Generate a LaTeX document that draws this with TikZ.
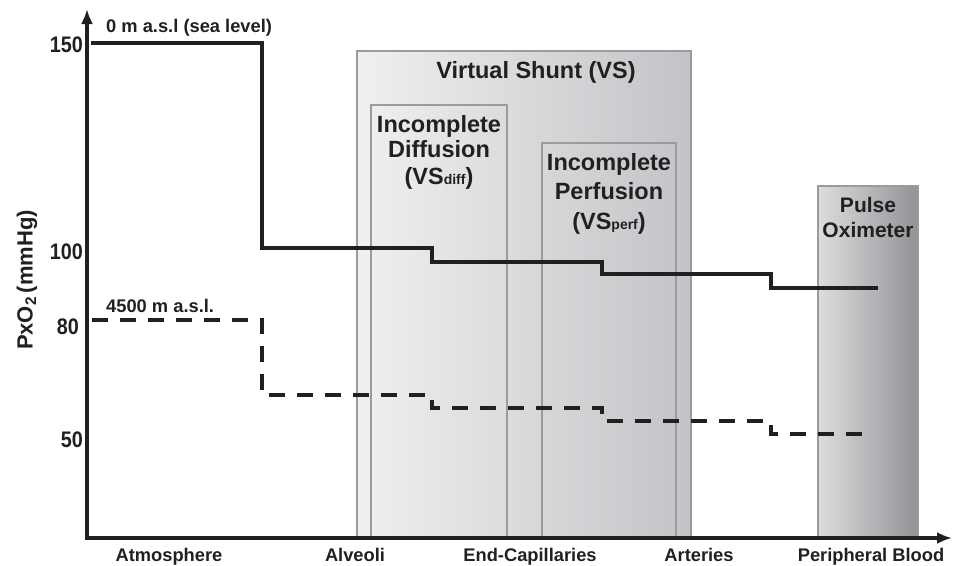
\documentclass[tikz,border=0pt]{standalone}
\usepackage{fontspec}
\setmainfont{Liberation Sans}
\newfontfamily\condfont[FakeStretch=0.88]{Liberation Sans}
\usetikzlibrary{arrows.meta}
\definecolor{ink}{HTML}{231F20}
\definecolor{boxline}{HTML}{9A9B9D}
\definecolor{vsL}{HTML}{F0F0F1}
\definecolor{vsR}{HTML}{C2C3C6}
\definecolor{poL}{HTML}{DCDDDF}
\definecolor{poR}{HTML}{919295}
\newcommand{\smallsub}[1]{\raisebox{-0.5pt}{\fontsize{14}{14}\selectfont #1}}
\begin{document}
\begin{tikzpicture}[x=1pt,y=-1pt,
  lbl/.style={font=\bfseries\fontsize{18.3}{20}\selectfont, text=ink, inner sep=0pt, anchor=base},
  ticklbl/.style={font=\condfont\bfseries\fontsize{22.5}{24}\selectfont, text=ink, inner sep=0pt, anchor=base east},
  boxtxt/.style={font=\bfseries\fontsize{23.5}{28}\selectfont, text=ink, inner sep=0pt, anchor=base},
  frame/.style={draw=boxline, line width=2.5pt},
  curve/.style={draw=ink, line width=4pt, line join=miter},
  dashcurve/.style={curve, dash pattern=on 16pt off 12pt},
  axisline/.style={draw=ink, line width=4pt, {Latex[length=15pt,width=12pt]}-{Latex[length=15pt,width=12pt]}},
]
\useasboundingbox (0,0) rectangle (953,565);

% boxes
\shade[left color=vsL, right color=vsR] (357,51) rectangle (691,538);
\draw[frame] (357,51) rectangle (691,538);
\draw[frame] (371,105) rectangle (507,538);
\draw[frame] (542,143) rectangle (676,538);
\shade[left color=poL, right color=poR] (818,186) rectangle (918,538);
\draw[frame] (818,186) rectangle (918,538);

% box texts
\node[boxtxt] (vs) at (536,78) {Virtual Shunt (VS)};
\node[boxtxt] (d1) at (439,132) {Incomplete};
\node[boxtxt] (d2) at (439,157) {Diffusion};
\node[boxtxt] (d3) at (439,184) {(VS\smallsub{diff})};
\node[boxtxt] (p1) at (609,170) {Incomplete};
\node[boxtxt] (p2) at (609,199) {Perfusion};
\node[boxtxt] (p3) at (609,229) {(VS\smallsub{perf})};
\node[boxtxt, font=\bfseries\fontsize{21}{24}\selectfont] (o1) at (868,212) {Pulse};
\node[boxtxt, font=\bfseries\fontsize{21}{24}\selectfont] (o2) at (868,237) {Oximeter};

% curves
\coordinate (s0) at (91,43);
\coordinate (se) at (878,288);
\draw[curve] (s0) -- (262,43) -- (262,248) -- (432,248) -- (432,262) -- (602,262) -- (602,274) -- (771,274) -- (771,288) -- (se);
\coordinate (h0) at (92,320);
\coordinate (he) at (870,434);
\draw[dashcurve] (h0) -- (262,320) -- (262,395) -- (432,395) -- (432,408) -- (602,408) -- (602,421) -- (771,421) -- (771,434) -- (he);

% axes
\coordinate (ytop) at (87,9);
\coordinate (orig) at (87,538);
\coordinate (xend) at (952,538);
\draw[axisline] (ytop) -- (orig) -- (xend);

% curve labels
\node[lbl, anchor=base west] (sea) at (106,32) {0 m a.s.l (sea level)};
\node[lbl, anchor=base west] (alt) at (106,312) {4500 m a.s.l.};

% tick labels
\node[ticklbl] (t150) at (83,52) {150};
\node[ticklbl] (t100) at (83,259) {100};
\node[ticklbl] (t80) at (79,334) {80};
\node[ticklbl] (t50) at (83,447) {50};

% y label
\node[font=\bfseries\fontsize{22}{24}\selectfont, text=ink, rotate=90, inner sep=0pt] (ylab) at (27,280) {PxO\textsubscript{2}\,(mmHg)};

% x labels
\node[lbl] (x1) at (169,561) {Atmosphere};
\node[lbl] (x2) at (355,561) {Alveoli};
\node[lbl] (x3) at (530,561) {End-Capillaries};
\node[lbl] (x4) at (699,561) {Arteries};
\node[lbl] (x5) at (871,561) {Peripheral Blood};
\end{tikzpicture}
\end{document}
